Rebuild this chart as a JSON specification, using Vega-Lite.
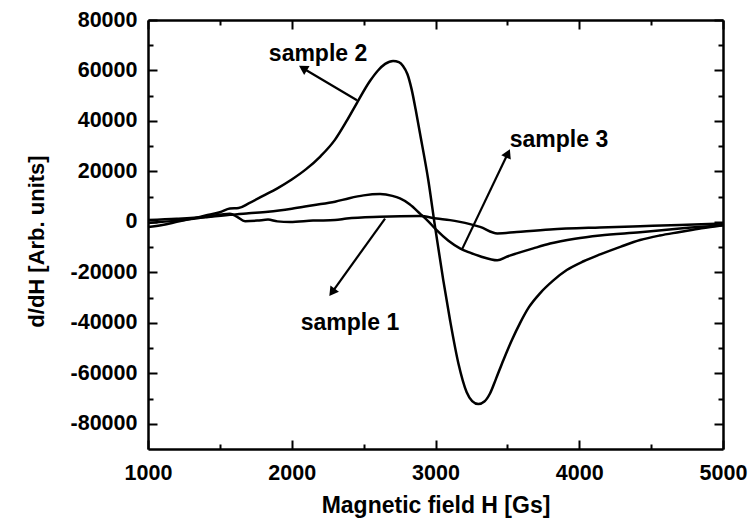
{
  "$schema": "https://vega.github.io/schema/vega-lite/v6.json",
  "width": 575,
  "height": 429,
  "autosize": {"type": "none"},
  "padding": {"left": 148, "top": 20, "right": 26, "bottom": 72},
  "background": "white",
  "config": {
    "view": {"stroke": null},
    "font": "Liberation Sans",
    "axis": {
      "grid": false,
      "ticks": true,
      "labelFlush": false,
      "labelFont": "Liberation Sans",
      "labelFontWeight": "bold",
      "labelFontSize": 21.5,
      "labelColor": "black",
      "titleFont": "Liberation Sans",
      "titleFontWeight": "bold",
      "titleColor": "black",
      "domainColor": "black",
      "domainWidth": 2.5,
      "tickColor": "black",
      "tickWidth": 2
    }
  },
  "datasets": {
    "curves": [
      {"sample": "sample 2", "H": 1000, "v": -2000},
      {"sample": "sample 2", "H": 1100, "v": -1200},
      {"sample": "sample 2", "H": 1200, "v": 0},
      {"sample": "sample 2", "H": 1300, "v": 1200},
      {"sample": "sample 2", "H": 1400, "v": 2500},
      {"sample": "sample 2", "H": 1500, "v": 3800},
      {"sample": "sample 2", "H": 1570, "v": 5300},
      {"sample": "sample 2", "H": 1630, "v": 5500},
      {"sample": "sample 2", "H": 1700, "v": 7300},
      {"sample": "sample 2", "H": 1800, "v": 10300},
      {"sample": "sample 2", "H": 1900, "v": 13300},
      {"sample": "sample 2", "H": 2000, "v": 16800},
      {"sample": "sample 2", "H": 2100, "v": 20900},
      {"sample": "sample 2", "H": 2200, "v": 26000},
      {"sample": "sample 2", "H": 2300, "v": 32500},
      {"sample": "sample 2", "H": 2382, "v": 40000},
      {"sample": "sample 2", "H": 2452, "v": 47000},
      {"sample": "sample 2", "H": 2544, "v": 55800},
      {"sample": "sample 2", "H": 2600, "v": 60000},
      {"sample": "sample 2", "H": 2650, "v": 62600},
      {"sample": "sample 2", "H": 2705, "v": 63800},
      {"sample": "sample 2", "H": 2745, "v": 63300},
      {"sample": "sample 2", "H": 2774, "v": 61800},
      {"sample": "sample 2", "H": 2805, "v": 58500},
      {"sample": "sample 2", "H": 2834, "v": 52500},
      {"sample": "sample 2", "H": 2862, "v": 44500},
      {"sample": "sample 2", "H": 2892, "v": 35100},
      {"sample": "sample 2", "H": 2950, "v": 16500},
      {"sample": "sample 2", "H": 2997, "v": -2000},
      {"sample": "sample 2", "H": 3054, "v": -23100},
      {"sample": "sample 2", "H": 3101, "v": -38900},
      {"sample": "sample 2", "H": 3159, "v": -56000},
      {"sample": "sample 2", "H": 3217, "v": -67500},
      {"sample": "sample 2", "H": 3255, "v": -71000},
      {"sample": "sample 2", "H": 3298, "v": -72200},
      {"sample": "sample 2", "H": 3340, "v": -71200},
      {"sample": "sample 2", "H": 3379, "v": -68000},
      {"sample": "sample 2", "H": 3420, "v": -62300},
      {"sample": "sample 2", "H": 3472, "v": -54800},
      {"sample": "sample 2", "H": 3530, "v": -47000},
      {"sample": "sample 2", "H": 3588, "v": -40100},
      {"sample": "sample 2", "H": 3650, "v": -33800},
      {"sample": "sample 2", "H": 3727, "v": -28300},
      {"sample": "sample 2", "H": 3820, "v": -23200},
      {"sample": "sample 2", "H": 3913, "v": -19100},
      {"sample": "sample 2", "H": 4030, "v": -15600},
      {"sample": "sample 2", "H": 4150, "v": -12800},
      {"sample": "sample 2", "H": 4290, "v": -9800},
      {"sample": "sample 2", "H": 4423, "v": -7200},
      {"sample": "sample 2", "H": 4560, "v": -5400},
      {"sample": "sample 2", "H": 4700, "v": -4000},
      {"sample": "sample 2", "H": 4850, "v": -2500},
      {"sample": "sample 2", "H": 5000, "v": -1300},
      {"sample": "sample 3", "H": 1000, "v": -400},
      {"sample": "sample 3", "H": 1200, "v": 500},
      {"sample": "sample 3", "H": 1400, "v": 1800},
      {"sample": "sample 3", "H": 1570, "v": 2800},
      {"sample": "sample 3", "H": 1700, "v": 3400},
      {"sample": "sample 3", "H": 1835, "v": 4000},
      {"sample": "sample 3", "H": 2000, "v": 5200},
      {"sample": "sample 3", "H": 2148, "v": 6600},
      {"sample": "sample 3", "H": 2301, "v": 8000},
      {"sample": "sample 3", "H": 2400, "v": 9400},
      {"sample": "sample 3", "H": 2500, "v": 10500},
      {"sample": "sample 3", "H": 2614, "v": 11000},
      {"sample": "sample 3", "H": 2700, "v": 10300},
      {"sample": "sample 3", "H": 2753, "v": 9300},
      {"sample": "sample 3", "H": 2820, "v": 7000},
      {"sample": "sample 3", "H": 2892, "v": 3300},
      {"sample": "sample 3", "H": 2950, "v": 200},
      {"sample": "sample 3", "H": 3008, "v": -3300},
      {"sample": "sample 3", "H": 3090, "v": -7500},
      {"sample": "sample 3", "H": 3170, "v": -10500},
      {"sample": "sample 3", "H": 3240, "v": -12200},
      {"sample": "sample 3", "H": 3310, "v": -13600},
      {"sample": "sample 3", "H": 3430, "v": -15200},
      {"sample": "sample 3", "H": 3500, "v": -13700},
      {"sample": "sample 3", "H": 3565, "v": -12500},
      {"sample": "sample 3", "H": 3680, "v": -10500},
      {"sample": "sample 3", "H": 3797, "v": -8600},
      {"sample": "sample 3", "H": 3970, "v": -6700},
      {"sample": "sample 3", "H": 4144, "v": -5400},
      {"sample": "sample 3", "H": 4423, "v": -4100},
      {"sample": "sample 3", "H": 4700, "v": -2600},
      {"sample": "sample 3", "H": 5000, "v": -1300},
      {"sample": "sample 1", "H": 1000, "v": 700},
      {"sample": "sample 1", "H": 1200, "v": 1200},
      {"sample": "sample 1", "H": 1400, "v": 2000},
      {"sample": "sample 1", "H": 1570, "v": 3200},
      {"sample": "sample 1", "H": 1620, "v": 2000},
      {"sample": "sample 1", "H": 1675, "v": 300},
      {"sample": "sample 1", "H": 1760, "v": 500},
      {"sample": "sample 1", "H": 1835, "v": 900},
      {"sample": "sample 1", "H": 1900, "v": 200},
      {"sample": "sample 1", "H": 1988, "v": 0},
      {"sample": "sample 1", "H": 2148, "v": 500},
      {"sample": "sample 1", "H": 2301, "v": 700},
      {"sample": "sample 1", "H": 2382, "v": 1300},
      {"sample": "sample 1", "H": 2614, "v": 2000},
      {"sample": "sample 1", "H": 2892, "v": 2300},
      {"sample": "sample 1", "H": 3008, "v": 1300},
      {"sample": "sample 1", "H": 3101, "v": 700},
      {"sample": "sample 1", "H": 3170, "v": 0},
      {"sample": "sample 1", "H": 3240, "v": -900},
      {"sample": "sample 1", "H": 3310, "v": -2000},
      {"sample": "sample 1", "H": 3430, "v": -4600},
      {"sample": "sample 1", "H": 3565, "v": -4000},
      {"sample": "sample 1", "H": 3797, "v": -3000},
      {"sample": "sample 1", "H": 4144, "v": -2200},
      {"sample": "sample 1", "H": 4423, "v": -1700},
      {"sample": "sample 1", "H": 4700, "v": -1200},
      {"sample": "sample 1", "H": 5000, "v": -600}
    ],
    "labels": [
      {"label": "sample 2", "H": 2183, "v": 66400},
      {"label": "sample 3", "H": 3859, "v": 32400},
      {"label": "sample 1", "H": 2405, "v": -40100}
    ],
    "arrows": [
      {"label": "sample 2", "H": 2454, "v": 48200, "H2": 2078, "v2": 60900},
      {"label": "sample 3", "H": 3182, "v": -11200, "H2": 3504, "v2": 27200},
      {"label": "sample 1", "H": 2649, "v": 1300, "H2": 2280, "v2": -27900}
    ]
  },
  "layer": [
    {
      "data": {"name": "curves"},
      "mark": {"type": "line", "stroke": "black", "strokeWidth": 2.5, "strokeJoin": "round", "interpolate": "monotone"},
      "encoding": {
        "x": {
          "field": "H", "type": "quantitative",
          "scale": {"domain": [1000, 5000], "nice": false, "zero": false},
          "axis": {
            "orient": "bottom",
            "values": [1000, 1500, 2000, 2500, 3000, 3500, 4000, 4500, 5000],
            "format": "d",
            "labelExpr": "datum.value % 1000 === 0 ? toString(datum.value) : ''",
            "tickSize": {"condition": {"test": "datum.value % 1000 === 0", "value": -9}, "value": -5},
            "labelPadding": 22,
            "title": "Magnetic field H [Gs]",
            "titleFontSize": 23,
            "titlePadding": 11
          }
        },
        "y": {
          "field": "v", "type": "quantitative",
          "scale": {"domain": [-90000, 80000], "nice": false, "zero": false},
          "axis": {
            "orient": "left",
            "values": [-80000, -70000, -60000, -50000, -40000, -30000, -20000, -10000, 0, 10000, 20000, 30000, 40000, 50000, 60000, 70000, 80000],
            "format": "d",
            "labelExpr": "datum.value % 20000 === 0 ? toString(datum.value) : ''",
            "tickSize": {"condition": {"test": "datum.value % 20000 === 0", "value": -9}, "value": -5},
            "labelPadding": 20,
            "title": "d/dH [Arb. units]",
            "titleFontSize": 22,
            "titlePadding": 22,
            "titleY": 221
          }
        },
        "detail": {"field": "sample"}
      }
    },
    {
      "data": {"name": "curves"},
      "mark": {"type": "point", "opacity": 0},
      "encoding": {
        "x": {
          "field": "H", "type": "quantitative",
          "axis": {
            "orient": "top",
            "values": [1000, 1500, 2000, 2500, 3000, 3500, 4000, 4500, 5000],
            "labels": false,
            "tickSize": {"condition": {"test": "datum.value % 1000 === 0", "value": -9}, "value": -5},
            "title": null
          }
        },
        "y": {
          "field": "v", "type": "quantitative",
          "axis": {
            "orient": "right",
            "values": [-80000, -70000, -60000, -50000, -40000, -30000, -20000, -10000, 0, 10000, 20000, 30000, 40000, 50000, 60000, 70000, 80000],
            "labels": false,
            "tickSize": {"condition": {"test": "datum.value % 20000 === 0", "value": -9}, "value": -5},
            "title": null
          }
        }
      }
    },
    {
      "data": {"name": "arrows"},
      "mark": {"type": "rule", "stroke": "black", "strokeWidth": 2.2},
      "encoding": {
        "x": {"field": "H", "type": "quantitative", "axis": null},
        "y": {"field": "v", "type": "quantitative", "axis": null},
        "x2": {"field": "H2"},
        "y2": {"field": "v2"}
      }
    },
    {
      "data": {"name": "arrows"},
      "transform": [{"filter": "datum.label === 'sample 2'"}],
      "mark": {"type": "point", "shape": "triangle-up", "filled": true, "color": "black", "opacity": 1, "size": 110, "angle": 301},
      "encoding": {
        "x": {"field": "H2", "type": "quantitative", "axis": null},
        "y": {"field": "v2", "type": "quantitative", "axis": null}
      }
    },
    {
      "data": {"name": "arrows"},
      "transform": [{"filter": "datum.label === 'sample 3'"}],
      "mark": {"type": "point", "shape": "triangle-up", "filled": true, "color": "black", "opacity": 1, "size": 110, "angle": 25},
      "encoding": {
        "x": {"field": "H2", "type": "quantitative", "axis": null},
        "y": {"field": "v2", "type": "quantitative", "axis": null}
      }
    },
    {
      "data": {"name": "arrows"},
      "transform": [{"filter": "datum.label === 'sample 1'"}],
      "mark": {"type": "point", "shape": "triangle-up", "filled": true, "color": "black", "opacity": 1, "size": 110, "angle": 216},
      "encoding": {
        "x": {"field": "H2", "type": "quantitative", "axis": null},
        "y": {"field": "v2", "type": "quantitative", "axis": null}
      }
    },
    {
      "data": {"name": "labels"},
      "mark": {"type": "text", "font": "Liberation Sans", "fontWeight": "bold", "fontSize": 23, "color": "black", "align": "center", "baseline": "middle"},
      "encoding": {
        "x": {"field": "H", "type": "quantitative", "axis": null},
        "y": {"field": "v", "type": "quantitative", "axis": null},
        "text": {"field": "label"}
      }
    }
  ]
}
